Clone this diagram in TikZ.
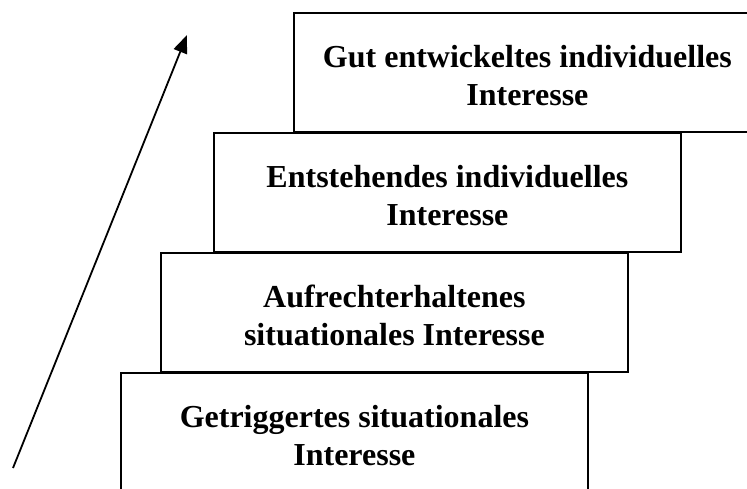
\documentclass[tikz,border=0pt]{standalone}
\usepackage{fontspec}
\setmainfont{Liberation Serif}
\usetikzlibrary{arrows.meta}
\begin{document}
\begin{tikzpicture}[x=1pt,y=-1pt,
  stage/.style={draw, line width=1.8pt, fill=white,
    minimum width=467pt, minimum height=119pt, inner sep=0pt,
    anchor=north west, align=center,
    text height=66pt, text depth=0pt,
    font=\fontsize{32}{38}\selectfont\bfseries},
  rise/.style={-{Triangle[length=18pt,width=14pt]}, line width=1.8pt}]
\useasboundingbox (0,0) rectangle (747,488);
\clip (0,0) rectangle (747,488);
% the four stages of interest, stacked as steps
\node[stage] (s1) at (293,12)  {Gut entwickeltes individuelles\\Interesse};
\node[stage] (s2) at (213,132) {Entstehendes individuelles\\Interesse};
\node[stage] (s3) at (160,252) {Aufrechterhaltenes\\situationales Interesse};
\node[stage] (s4) at (120,372) {Getriggertes situationales\\Interesse};
% rising arrow along the steps
\coordinate (tail) at (13,468);
\coordinate (head) at (187,35);
\draw[rise] (tail) -- (head);
\end{tikzpicture}
\end{document}
